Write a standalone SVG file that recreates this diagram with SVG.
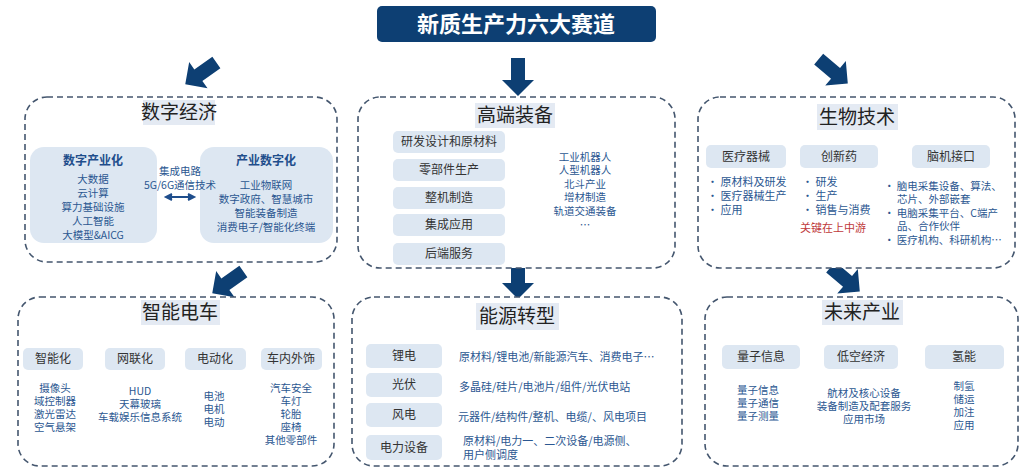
<svg xmlns="http://www.w3.org/2000/svg" xmlns:xlink="http://www.w3.org/1999/xlink" width="1024" height="476" viewBox="0 0 1024 476">
<style>
text{font-family:"Noto Sans CJK SC","Liberation Sans",sans-serif;}
.panel{fill:#fff;stroke:#44566e;stroke-width:1.6;stroke-dasharray:6 4;}
.ttlbox{fill:#e4eaf3;}
.ttl{font-size:19px;fill:#222;text-anchor:middle;}
.sub{fill:#dde7f2;}
.subt{font-size:12px;fill:#333;text-anchor:middle;}
.subb{font-size:12px;fill:#1f4e8c;text-anchor:middle;font-weight:bold;}
.it{font-size:10.5px;fill:#2b5791;text-anchor:middle;}
.itl{font-size:11px;fill:#2b5791;}
.its{font-size:10.5px;fill:#2b5791;}
.red{font-size:11px;fill:#c0393b;text-anchor:middle;}
.arr{fill:#0d3f73;}
</style>
<defs>
<path id="ar" class="arr" d="M-7,-20 L7,-20 L7,2 L16,2 L0,18 L-16,2 L-7,2 Z"/>
</defs>
<g id="title">
<rect x="377" y="6" width="279" height="36" rx="5" fill="#0d3f73"/>
<text x="516" y="32" font-size="22" fill="#fff" text-anchor="middle" font-weight="bold">新质生产力六大赛道</text>
</g>
<g id="connectors">
<use xlink:href="#ar" transform="translate(200,74) rotate(55)"/>
<use xlink:href="#ar" transform="translate(518,78)"/>
<use xlink:href="#ar" transform="translate(834,72) rotate(-50)"/>
<use xlink:href="#ar" transform="translate(227,283) rotate(55)"/>
<use xlink:href="#ar" transform="translate(518,281)"/>
<use xlink:href="#ar" transform="translate(846,280) rotate(-50)"/>
</g>
<g id="digital">
<rect class="panel" x="25" y="97" width="312" height="165" rx="22"/>
<rect class="ttlbox" x="143" y="100" width="72" height="25"/>
<text class="ttl" x="179" y="119">数字经济</text>
<rect class="sub" x="30" y="147" width="127" height="96" rx="14"/>
<text class="subb" x="93" y="165">数字产业化</text>
<text class="it" x="93" y="183">大数据</text>
<text class="it" x="93" y="197">云计算</text>
<text class="it" x="93" y="211">算力基础设施</text>
<text class="it" x="93" y="225">人工智能</text>
<text class="it" x="93" y="239">大模型&amp;AICG</text>
<rect class="sub" x="200" y="147" width="133" height="96" rx="14"/>
<text class="subb" x="266" y="165">产业数字化</text>
<text class="it" x="266" y="189">工业物联网</text>
<text class="it" x="266" y="203">数字政府、智慧城市</text>
<text class="it" x="266" y="217">智能装备制造</text>
<text class="it" x="266" y="231">消费电子/智能化终端</text>
<text class="it" x="180" y="175">集成电路</text>
<text class="it" x="180" y="189">5G/6G通信技术</text>
<path d="M168,197 H192 M172,194 L166,197 L172,200 M188,194 L194,197 L188,200" stroke="#1f4e8c" stroke-width="2" fill="#1f4e8c"/>
</g>
<g id="equip">
<rect class="panel" x="358" y="97" width="317" height="171" rx="22"/>
<rect class="ttlbox" x="475" y="103" width="80" height="25"/>
<text class="ttl" x="515" y="122">高端装备</text>
<rect class="sub" x="393" y="131" width="112" height="22" rx="5"/><text class="subt" x="449" y="146">研发设计和原材料</text>
<rect class="sub" x="393" y="159" width="112" height="22" rx="5"/><text class="subt" x="449" y="174">零部件生产</text>
<rect class="sub" x="393" y="187" width="112" height="22" rx="5"/><text class="subt" x="449" y="202">整机制造</text>
<rect class="sub" x="393" y="214" width="112" height="22" rx="5"/><text class="subt" x="449" y="229">集成应用</text>
<rect class="sub" x="393" y="243" width="112" height="22" rx="5"/><text class="subt" x="449" y="258">后端服务</text>
<text class="it" x="585" y="161">工业机器人</text>
<text class="it" x="585" y="174">人型机器人</text>
<text class="it" x="585" y="188">北斗产业</text>
<text class="it" x="585" y="201">增材制造</text>
<text class="it" x="585" y="215">轨道交通装备</text>
<text class="it" x="585" y="229">…</text>
</g>
<g id="bio">
<rect class="panel" x="698" y="97" width="317" height="171" rx="22"/>
<rect class="ttlbox" x="817" y="104" width="81" height="26"/>
<text class="ttl" x="857" y="124">生物技术</text>
<rect class="sub" x="706" y="145" width="80" height="23" rx="5"/><text class="subt" x="746" y="161">医疗器械</text>
<rect class="sub" x="800" y="145" width="78" height="23" rx="5"/><text class="subt" x="839" y="161">创新药</text>
<rect class="sub" x="912" y="145" width="78" height="23" rx="5"/><text class="subt" x="951" y="161">脑机接口</text>
<text class="itl" x="707" y="186">•  原材料及研发</text>
<text class="itl" x="707" y="200">•  医疗器械生产</text>
<text class="itl" x="707" y="214">•  应用</text>
<text class="itl" x="802" y="186">•  研发</text>
<text class="itl" x="802" y="200">•  生产</text>
<text class="itl" x="802" y="214">•  销售与消费</text>
<text class="red" x="833" y="232">关键在上中游</text>
<text class="its" x="884" y="190">•  脑电采集设备、算法、</text>
<text class="its" x="897" y="203">芯片、外部嵌套</text>
<text class="its" x="884" y="217">•  电脑采集平台、C端产</text>
<text class="its" x="897" y="230">品、合作伙伴</text>
<text class="its" x="884" y="244">•  医疗机构、科研机构…</text>
</g>
<g id="ev">
<rect class="panel" x="18" y="297" width="316" height="169" rx="22"/>
<rect class="ttlbox" x="141" y="300" width="79" height="25"/>
<text class="ttl" x="180" y="319">智能电车</text>
<rect class="sub" x="23" y="348" width="60" height="22" rx="5"/><text class="subt" x="53" y="363">智能化</text>
<rect class="sub" x="105" y="348" width="60" height="22" rx="5"/><text class="subt" x="135" y="363">网联化</text>
<rect class="sub" x="185" y="348" width="61" height="22" rx="5"/><text class="subt" x="215" y="363">电动化</text>
<rect class="sub" x="261" y="348" width="61" height="22" rx="5"/><text class="subt" x="291" y="363">车内外饰</text>
<text class="it" x="55" y="392">摄像头</text>
<text class="it" x="55" y="405">域控制器</text>
<text class="it" x="55" y="418">激光雷达</text>
<text class="it" x="55" y="431">空气悬架</text>
<text class="it" x="140" y="395">HUD</text>
<text class="it" x="140" y="408">天幕玻璃</text>
<text class="it" x="140" y="421">车载娱乐信息系统</text>
<text class="it" x="214" y="400">电池</text>
<text class="it" x="214" y="413">电机</text>
<text class="it" x="214" y="426">电动</text>
<text class="it" x="291" y="392">汽车安全</text>
<text class="it" x="291" y="405">车灯</text>
<text class="it" x="291" y="418">轮胎</text>
<text class="it" x="291" y="431">座椅</text>
<text class="it" x="291" y="444">其他零部件</text>
</g>
<g id="energy">
<rect class="panel" x="352" y="297" width="330" height="169" rx="22"/>
<rect class="ttlbox" x="476" y="303" width="83" height="27"/>
<text class="ttl" x="517" y="323">能源转型</text>
<rect class="sub" x="366" y="344" width="76" height="24" rx="5"/><text class="subt" x="404" y="360">锂电</text>
<rect class="sub" x="366" y="373" width="76" height="24" rx="5"/><text class="subt" x="404" y="389">光伏</text>
<rect class="sub" x="366" y="403" width="76" height="24" rx="5"/><text class="subt" x="404" y="419">风电</text>
<rect class="sub" x="366" y="435" width="76" height="25" rx="5"/><text class="subt" x="404" y="452">电力设备</text>
<text class="itl" x="459" y="361">原材料/锂电池/新能源汽车、消费电子…</text>
<text class="itl" x="459" y="391">多晶硅/硅片/电池片/组件/光伏电站</text>
<text class="itl" x="458" y="421">元器件/结构件/整机、电缆/、风电项目</text>
<text class="itl" x="463" y="445">原材料/电力一、二次设备/电源侧、</text>
<text class="itl" x="463" y="459">用户侧调度</text>
</g>
<g id="future">
<rect class="panel" x="705" y="297" width="313" height="169" rx="22"/>
<rect class="ttlbox" x="822" y="300" width="81" height="25"/>
<text class="ttl" x="862" y="319">未来产业</text>
<rect class="sub" x="722" y="345" width="78" height="24" rx="5"/><text class="subt" x="761" y="361">量子信息</text>
<rect class="sub" x="824" y="345" width="74" height="24" rx="5"/><text class="subt" x="861" y="361">低空经济</text>
<rect class="sub" x="925" y="345" width="79" height="24" rx="5"/><text class="subt" x="964" y="361">氢能</text>
<text class="it" x="758" y="394">量子信息</text>
<text class="it" x="758" y="407">量子通信</text>
<text class="it" x="758" y="420">量子测量</text>
<text class="it" x="864" y="397">航材及核心设备</text>
<text class="it" x="864" y="410">装备制造及配套服务</text>
<text class="it" x="864" y="423">应用市场</text>
<text class="it" x="964" y="390">制氢</text>
<text class="it" x="964" y="403">储运</text>
<text class="it" x="964" y="416">加注</text>
<text class="it" x="964" y="429">应用</text>
</g>
</svg>
